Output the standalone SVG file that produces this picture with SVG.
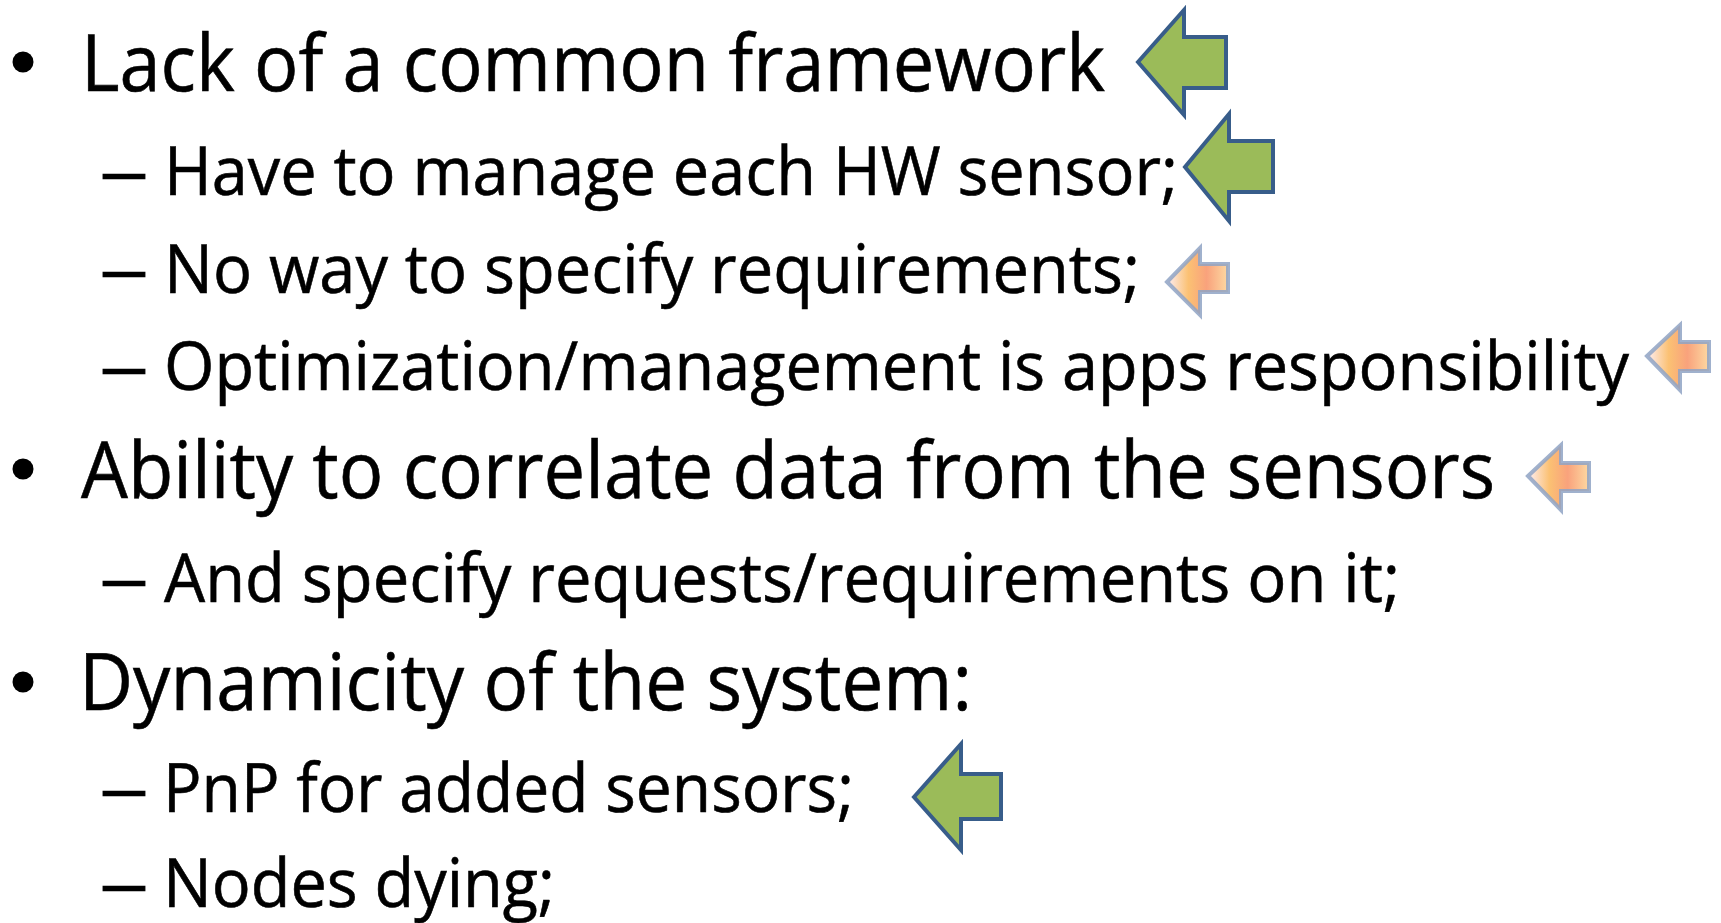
<svg xmlns="http://www.w3.org/2000/svg" width="1721" height="923" viewBox="0 0 1721 923">
<defs>
<linearGradient id="og" x1="0" y1="0" x2="1" y2="0">
<stop offset="0" stop-color="#fdeef5"/>
<stop offset="0.35" stop-color="#fbc173"/>
<stop offset="0.65" stop-color="#f9a27c"/>
<stop offset="1" stop-color="#fdd9a2"/>
</linearGradient>
</defs>
<style>
.t{font-family:"Open Sans","Noto Sans","Liberation Sans",sans-serif;fill:#000;stroke:#000;stroke-width:0.6}
.l1{font-size:78px}
.l2{font-size:67px}
.g{fill:#9bbb59;stroke:#385d8a;stroke-width:4;stroke-linejoin:miter}
.o{fill:url(#og);stroke:#8fa3c4;stroke-opacity:0.85;stroke-width:4;stroke-linejoin:miter}
</style>
<rect width="1721" height="923" fill="#ffffff"/>
<g id="text">
<circle cx="23" cy="62" r="10.5"/>
<text class="t l1" x="81" y="91" textLength="1024" lengthAdjust="spacingAndGlyphs">Lack of a common framework</text>
<text class="t l2" x="99" y="195" textLength="50" lengthAdjust="spacingAndGlyphs">–</text>
<text class="t l2" x="164" y="195" textLength="1014" lengthAdjust="spacingAndGlyphs">Have to manage each HW sensor;</text>
<text class="t l2" x="99" y="293" textLength="50" lengthAdjust="spacingAndGlyphs">–</text>
<text class="t l2" x="164" y="293" textLength="976" lengthAdjust="spacingAndGlyphs">No way to specify requirements;</text>
<text class="t l2" x="99" y="390" textLength="50" lengthAdjust="spacingAndGlyphs">–</text>
<text class="t l2" x="164" y="390" textLength="1465" lengthAdjust="spacingAndGlyphs">Optimization/management is apps responsibility</text>
<circle cx="23" cy="469" r="10.5"/>
<text class="t l1" x="81" y="498" textLength="1414" lengthAdjust="spacingAndGlyphs">Ability to correlate data from the sensors</text>
<text class="t l2" x="99" y="602" textLength="50" lengthAdjust="spacingAndGlyphs">–</text>
<text class="t l2" x="164" y="602" textLength="1236" lengthAdjust="spacingAndGlyphs">And specify requests/requirements on it;</text>
<circle cx="23" cy="682" r="10.5"/>
<text class="t l1" x="79" y="710" textLength="893" lengthAdjust="spacingAndGlyphs">Dynamicity of the system:</text>
<text class="t l2" x="99" y="812" textLength="50" lengthAdjust="spacingAndGlyphs">–</text>
<text class="t l2" x="163" y="812" textLength="691" lengthAdjust="spacingAndGlyphs">PnP for added sensors;</text>
<text class="t l2" x="99" y="907" textLength="50" lengthAdjust="spacingAndGlyphs">–</text>
<text class="t l2" x="163" y="907" textLength="392" lengthAdjust="spacingAndGlyphs">Nodes dying;</text>
</g>
<g id="arrow1"><polygon class="g" points="1138,62 1184,10 1184,37 1226,37 1226,88 1184,88 1184,115"/></g>
<g id="arrow2"><polygon class="g" points="1185,167 1229,114 1229,141 1273,141 1273,192 1229,192 1229,221"/></g>
<g id="arrow3"><polygon class="o" points="1167,282 1200,248 1200,264 1228,264 1228,292 1200,292 1200,315"/></g>
<g id="arrow4"><polygon class="o" points="1647,356 1680,325 1680,342 1709,342 1709,371 1680,371 1680,390"/></g>
<g id="arrow5"><polygon class="o" points="1528,476 1561,445 1561,463 1589,463 1589,491 1561,491 1561,510"/></g>
<g id="arrow6"><polygon class="g" points="914,797 961,744 961,774 1001,774 1001,819 961,819 961,850"/></g>
</svg>
